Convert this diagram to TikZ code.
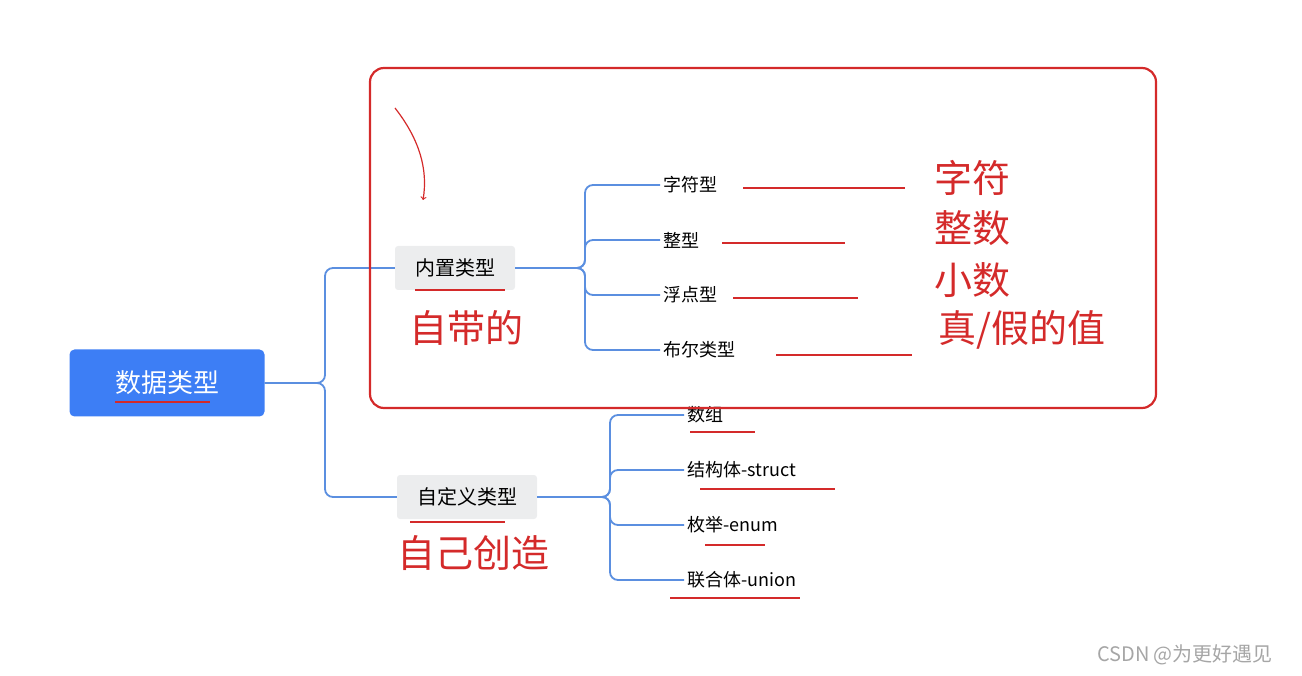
\documentclass[tikz,border=0pt]{standalone}
\usepackage{fontspec}
\newfontfamily\cjk{Noto Sans CJK SC}
\usetikzlibrary{positioning}
\definecolor{rootblue}{HTML}{3D7EF5}
\definecolor{linkblue}{HTML}{5B8FE0}
\definecolor{penred}{HTML}{D42A2A}
\definecolor{boxgray}{HTML}{ECEDEE}
\tikzset{
    root/.style={ % main topic
        rectangle,
        rounded corners=5pt,
        fill=rootblue,
        text=white,
        minimum width=195pt,
        minimum height=67pt,
        font=\cjk\fontsize{26}{28}\selectfont
        },
    topic/.style={ % grey sub topic
        rectangle,
        rounded corners=3pt,
        fill=boxgray,
        minimum height=44pt,
        inner xsep=20pt,
        font=\cjk\fontsize{20}{22}\selectfont
        },
    leaf/.style={
        anchor=west,
        inner sep=3pt,
        font=\cjk\fontsize{18}{20}\selectfont
        },
    link/.style={
        draw=linkblue,
        line width=1.8pt,
        rounded corners=8pt
        },
    pen/.style={
        draw=penred,
        line width=1.4pt
        },
    note/.style={
        text=penred,
        font=\cjk\fontsize{38}{42}\selectfont
        }
}
\begin{document}
\begin{tikzpicture}[x=1pt,y=-1pt]
    \useasboundingbox (0,0) rectangle (1302,676);

    %%%%% topics
    \node[root] (data) at (167,383) {数据类型};
    \node[topic] (inner) at (455,268) {内置类型};
    \node[topic] (self) at (467,497) {自定义类型};

    %%%%% leaves of inner
    \node[leaf] (c1) at (660,185) {字符型};
    \node[leaf] (c2) at (660,240) {整型};
    \node[leaf] (c3) at (660,295) {浮点型};
    \node[leaf] (c4) at (660,350) {布尔类型};

    %%%%% leaves of self
    \node[leaf] (d1) at (684,415) {数组};
    \node[leaf] (d2) at (684,470) {结构体-struct};
    \node[leaf] (d3) at (684,525) {枚举-enum};
    \node[leaf] (d4) at (684,580) {联合体-union};

    %%%%% links
    \draw[link] (data.east) -- (325,383) |- (inner.west);
    \draw[link] (data.east) -- (325,383) |- (self.west);
    \foreach \c in {c1,c2,c3,c4}
        \draw[link] (inner.east) -- (585,268) |- (\c.west);
    \foreach \d in {d1,d2,d3,d4}
        \draw[link] (self.east) -- (610,497) |- (\d.west);

    %%%%% red notes
    \draw[pen,line width=2.2pt,rounded corners=14pt] (370,68) rectangle (1156,408);
    \draw[pen,->,line width=1.2pt] (395,108) .. controls (420,140) and (428,170) .. (423,200);
    \node[note] (n1) at (972,178) {字符};
    \node[note] (n2) at (972,228) {整数};
    \node[note] (n3) at (972,280) {小数};
    \node[note] (n4) at (1022,330) {真/假的值};
    \node[note] (own) at (466,328) {自带的};
    \node[note] (made) at (473,553) {自己创造};
    \draw[pen] (743,188) -- (905,188);
    \draw[pen] (722,243) -- (845,243);
    \draw[pen] (733,298) -- (858,298);
    \draw[pen] (776,355) -- (912,355);
    \draw[pen] (415,290) -- (505,290);
    \draw[pen] (410,522) -- (505,522);
    \draw[pen] (115,402) -- (210,402);
    \draw[pen] (690,432) -- (755,432);
    \draw[pen] (700,489) -- (835,489);
    \draw[pen] (705,545) -- (765,545);
    \draw[pen] (670,598) -- (800,598);

    %%%%% watermark
    \node[text=gray!70,font=\cjk\fontsize{20}{22}\selectfont] (mark) at (1185,655) {CSDN @为更好遇见};
\end{tikzpicture}
\end{document}
